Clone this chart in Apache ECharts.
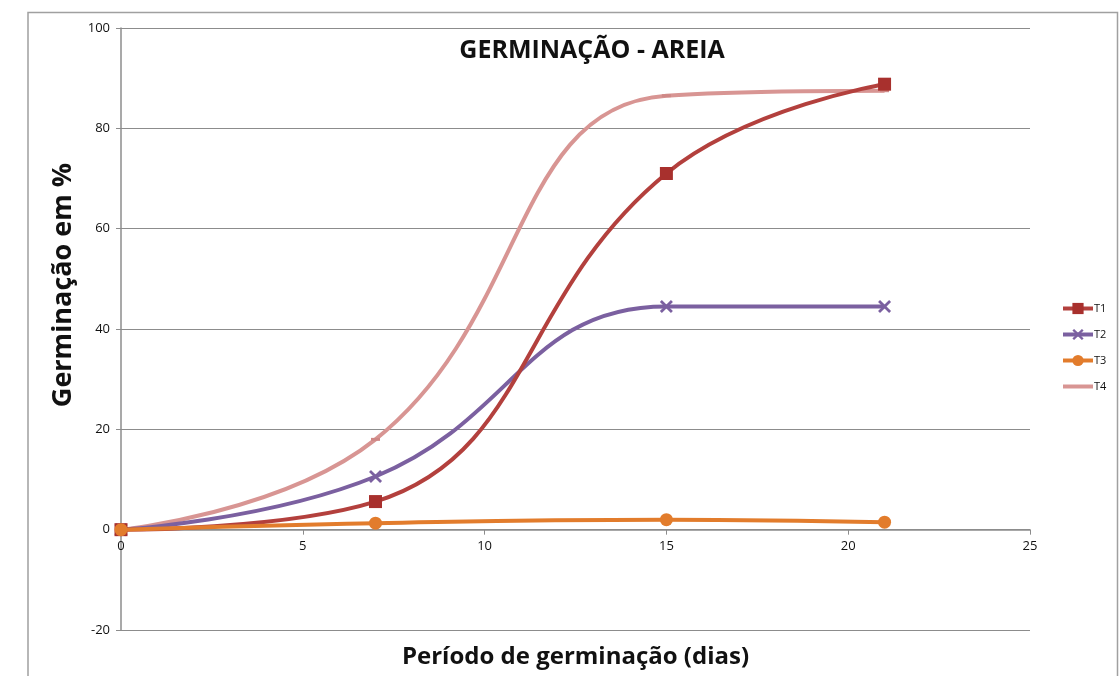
<!DOCTYPE html>
<html><head><meta charset="utf-8">
<script src="https://cdn.jsdelivr.net/npm/echarts@6/dist/echarts.min.js"></script>
<style>html,body{margin:0;padding:0;background:#fff}#c{width:1119px;height:676px}</style>
</head><body><div id="c"></div>
<script>
const days = [0, 7, 15, 21];
const T1 = [0, 5.6, 71, 88.8];
const T2 = [0, 10.6, 44.5, 44.5];
const T3 = [0, 1.3, 2, 1.5];
const T4 = [0, 18, 86.5, 87.5];
const seriesNames = ['T1', 'T2', 'T3', 'T4'];
const xTicks = [0, 5, 10, 15, 20, 25];
const yTicks = [-20, 0, 20, 40, 60, 80, 100];

const pairs = arr => days.map((d, i) => [d, arr[i]]);
const xPath = 'path://M0,1.5L1.5,0L5,3.5L8.5,0L10,1.5L6.5,5L10,8.5L8.5,10L5,6.5L1.5,10L0,8.5L3.5,5Z';
const font = '"Open Sans", "Liberation Sans", sans-serif';

const chart = echarts.init(document.getElementById('c'));
chart.setOption({
  animation: false,
  backgroundColor: '#fff',
  title: {
    text: 'GERMINAÇÃO - AREIA', left: 587, top: 33, textAlign: 'center',
    textStyle: { fontFamily: font, fontWeight: 'bold', fontSize: 25, color: '#111' }
  },
  legend: {
    orient: 'vertical', left: 1056, top: 295, itemGap: 9, itemWidth: 30, itemHeight: 14,
    lineStyle: { width: 4 },
    textStyle: { fontFamily: font, fontSize: 11, color: '#111', padding: [0, 0, 0, -4], lineHeight: 17 },
    data: [seriesNames[0], seriesNames[1], seriesNames[2],
      { name: seriesNames[3], itemStyle: { color: 'rgba(0,0,0,0)', opacity: 0 } }]
  },
  grid: { left: 121, top: 28, right: 89, bottom: 46, containLabel: false, outerBoundsMode: 'none' },
  xAxis: {
    type: 'value', min: 0, max: 25, interval: 5,
    name: 'Período de germinação (dias)', nameLocation: 'middle', nameGap: 15,
    nameTextStyle: { fontFamily: font, fontWeight: 'bold', fontSize: 24, color: '#111' },
    axisLine: { onZero: true, lineStyle: { color: '#8c8c8c', width: 1.5 } },
    axisTick: { show: true, length: 5, lineStyle: { color: '#8c8c8c' } },
    axisLabel: { fontFamily: font, fontSize: 13, color: '#111', margin: -90,
      formatter: v => xTicks.includes(v) ? String(v) : '' },
    splitLine: { show: false }
  },
  yAxis: {
    type: 'value', min: -20, max: 100, interval: 20,
    name: 'Germinação em %', nameLocation: 'middle', nameGap: 42,
    nameTextStyle: { fontFamily: font, fontWeight: 'bold', fontSize: 27, color: '#111', padding: [0, 0, 0, 88] },
    axisLine: { show: true, onZero: false, lineStyle: { color: '#8c8c8c', width: 1.5 } },
    axisTick: { show: true, length: 5, lineStyle: { color: '#8c8c8c' } },
    axisLabel: { fontFamily: font, fontSize: 13, color: '#111', margin: 11,
      formatter: v => yTicks.includes(v) ? String(v) : '' },
    splitLine: { show: true, lineStyle: { color: '#8c8c8c', width: 1.2 } }
  },
  series: [
    { name: 'T1', type: 'line', smooth: 0.45, data: pairs(T1), symbol: 'rect', symbolSize: 13,
      lineStyle: { width: 4, color: '#b3403d' }, itemStyle: { color: '#a8302d' }, z: 4 },
    { name: 'T2', type: 'line', smooth: 0.45, data: pairs(T2), symbol: xPath, symbolSize: 13,
      lineStyle: { width: 4, color: '#7b60a0' }, itemStyle: { color: '#7b60a0' }, z: 3 },
    { name: 'T3', type: 'line', smooth: 0.45, data: pairs(T3), symbol: 'circle', symbolSize: 13,
      lineStyle: { width: 4, color: '#e27c2c' }, itemStyle: { color: '#e27c2c' }, z: 5 },
    { name: 'T4', type: 'line', smooth: 0.45, data: pairs(T4), symbol: 'rect', symbolSize: [9, 3],
      lineStyle: { width: 4, color: '#d89593' }, itemStyle: { color: '#cf8886' }, z: 2 }
  ],
  graphic: [
    { type: 'polyline', shape: { points: [[28, 676], [28, 12.5], [1117.5, 12.5], [1117.5, 676]] },
      style: { stroke: '#a0a0a0', lineWidth: 1.5, fill: null }, silent: true }
  ]
});
</script></body></html>
